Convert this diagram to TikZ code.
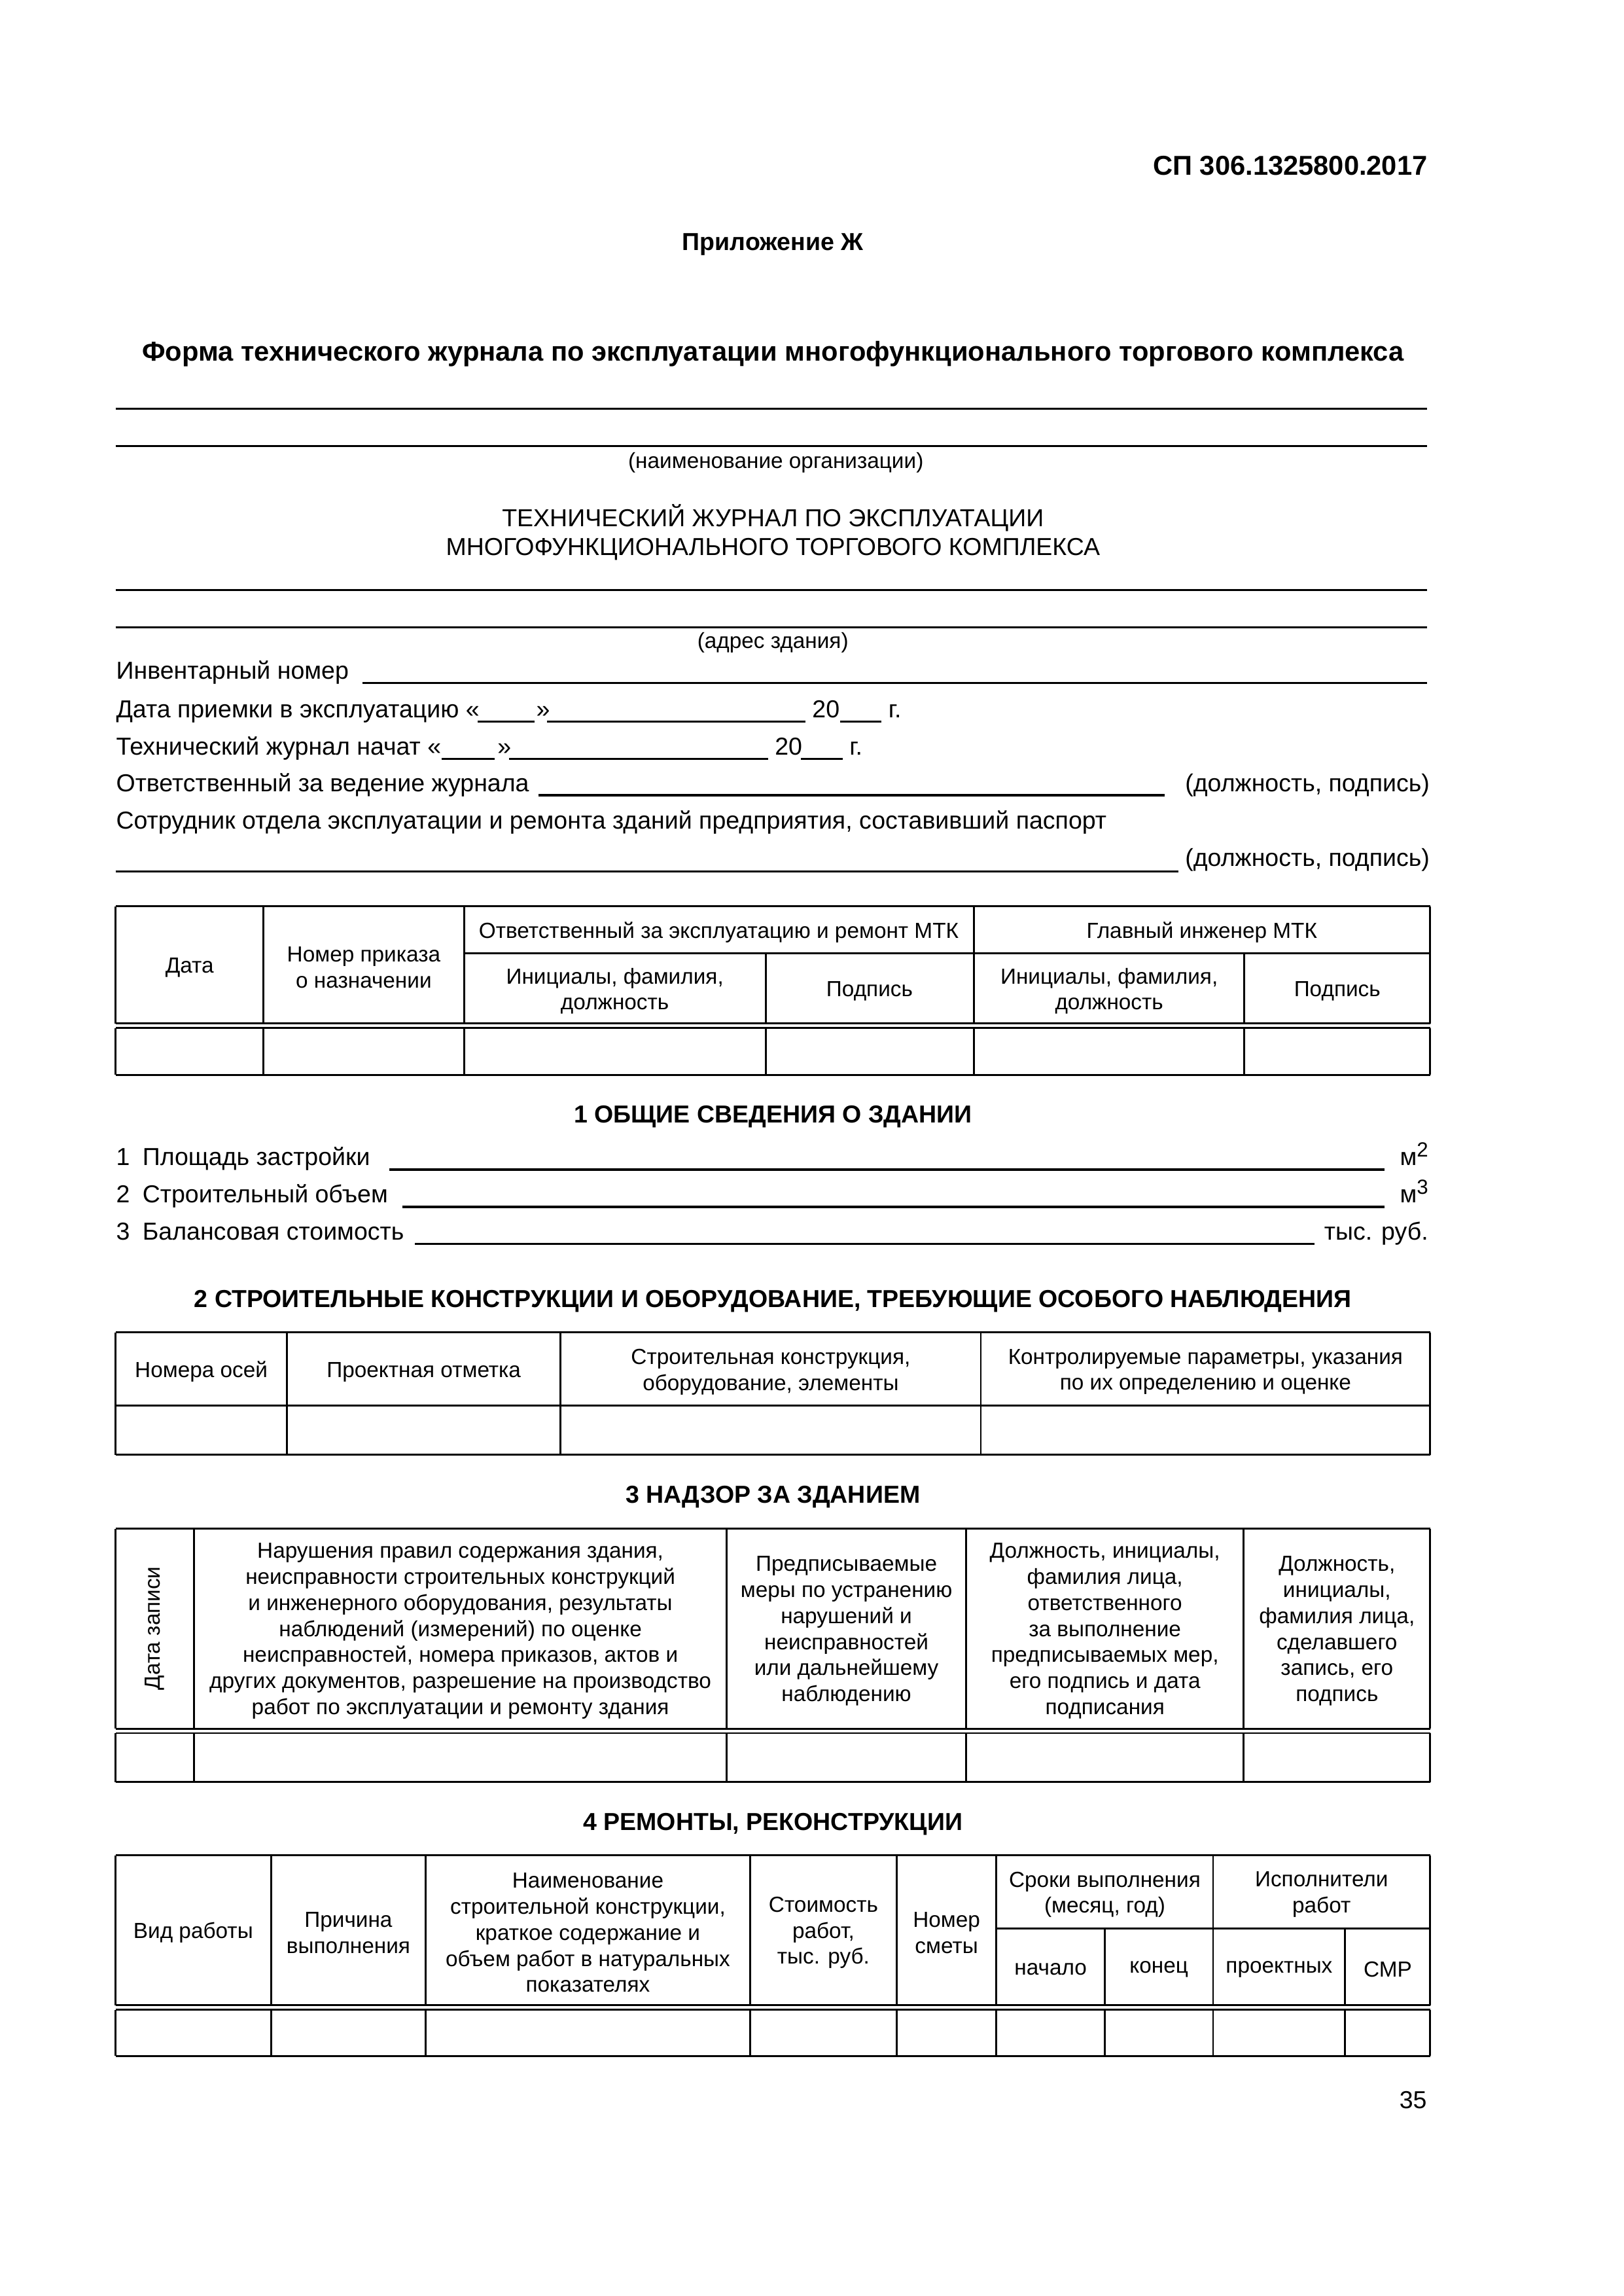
\documentclass[tikz,border=0pt]{standalone}
\usepackage{fontspec}
\setmainfont{Liberation Sans}

\begin{document}
\begin{tikzpicture}[
		x=0.53677pt, y=-0.53677pt,
		txt/.style={inner sep=0pt, anchor=base west, font=\fontsize{9}{13}\selectfont},
		txtr/.style={inner sep=0pt, anchor=base east, font=\fontsize{9}{13}\selectfont},
		note/.style={inner sep=0pt, anchor=base, font=\fontsize{8}{10}\selectfont},
		head/.style={inner sep=0pt, anchor=base, font=\bfseries\fontsize{9}{11}\selectfont},
		cell/.style={inner sep=0pt, yshift=-1pt, align=center, font=\fontsize{8}{9.55}\selectfont},
		rule/.style={line width=0.7pt},
		blank/.style={line width=0.8pt}
	]

	\fill[white] (0,0) rectangle (1109,1568);
	\useasboundingbox (0,0) rectangle (1109,1568);

	\node[inner sep=0pt, anchor=base east, font=\bfseries\fontsize{10}{12}\selectfont] (code) at (975.5,119.4) {СП 306.1325800.2017};
	\node[head] (annex) at (528,170.8) {Приложение Ж};
	\node[head, font=\bfseries\fontsize{10}{12}\selectfont] (title) at (528,246.7)
		{Форма технического журнала по эксплуатации многофункционального торгового комплекса};

	\foreach \y in {279,304.6,403,428.5}
		\draw[blank] (79,\y) -- (975,\y);
	\node[note] (orgname) at (530,319.8) {(наименование организации)};
	\node[head, font=\fontsize{9}{11}\selectfont] (journal1) at (528,359.6) {ТЕХНИЧЕСКИЙ ЖУРНАЛ ПО ЭКСПЛУАТАЦИИ};
	\node[head, font=\fontsize{9}{11}\selectfont] (journal2) at (528,379.3) {МНОГОФУНКЦИОНАЛЬНОГО ТОРГОВОГО КОМПЛЕКСА};
	\node[note] (address) at (528,442.7) {(адрес здания)};

	% fill-in lines
	\node[txt] (inv) at (79,463.7) {Инвентарный номер};
	\draw[blank] (247.5,466.5) -- (975,466.5);

	\node[txt] (accept) at (79,490) {Дата приемки в эксплуатацию «};
	\draw[blank] (326.4,492.8) -- (365,492.8);
	\node[txt] (acceptq) at (366,490) {»};
	\draw[blank] (373.8,492.8) -- (550.3,492.8);
	\node[txt] (accepty) at (554.5,490) {20};
	\draw[blank] (574,492.8) -- (602,492.8);
	\node[txt] (acceptg) at (606.6,490) {г.};

	\node[txt] (start) at (79,515.7) {Технический журнал начат «};
	\draw[blank] (301.5,518.4) -- (338,518.4);
	\node[txt] (startq) at (339.5,515.7) {»};
	\draw[blank] (347.6,518.4) -- (524.8,518.4);
	\node[txt] (starty) at (529,515.7) {20};
	\draw[blank] (547.3,518.4) -- (575.8,518.4);
	\node[txt] (startg) at (580,515.7) {г.};

	\node[txt] (keeper) at (79,540.7) {Ответственный за ведение журнала};
	\draw[blank] (367.8,543) -- (795.6,543);
	\node[txtr] (keepersig) at (977,540.7) {(должность, подпись)};

	\node[txt] (clerk) at (79,566) {Сотрудник отдела эксплуатации и ремонта зданий предприятия, составивший паспорт};
	\draw[blank] (79,595) -- (805,595);
	\node[txtr] (clerksig) at (977,591.7) {(должность, подпись)};

	% table of responsible persons
	\draw[rule] (79,619) -- (977,619);
	\draw[rule] (317,651) -- (977,651);
	\draw[rule] (79,699) -- (977,699) (79,702) -- (977,702);
	\draw[rule] (79,734) -- (977,734);
	\foreach \x in {79,180,317,665.5,977}
		\draw[rule] (\x,619) -- (\x,699) (\x,702) -- (\x,734);
	\foreach \x in {523,850}
		\draw[rule] (\x,651) -- (\x,699) (\x,702) -- (\x,734);

	\node[cell] (tdate) at (129.5,659) {Дата};
	\node[cell] (torder) at (248.5,659) {Номер приказа\\о назначении};
	\node[cell] (tresp) at (491,635) {Ответственный за эксплуатацию и ремонт МТК};
	\node[cell] (tchief) at (821,635) {Главный инженер МТК};
	\node[cell] (tresname) at (420,675) {Инициалы, фамилия,\\должность};
	\node[cell] (tressig) at (594,675) {Подпись};
	\node[cell] (tchname) at (757.7,675) {Инициалы, фамилия,\\должность};
	\node[cell] (tchsig) at (913.5,675) {Подпись};

	% section 1
	\node[head] (sec1) at (528,767) {1 ОБЩИЕ СВЕДЕНИЯ О ЗДАНИИ};
	\foreach \n/\y/\t/\s/\e in {1/796/Площадь застройки/266/945.6,
			2/821.4/Строительный объем/274.7/945.6,
			3/846.6/Балансовая стоимость/283.6/898}{
		\node[txt] (num\n) at (79,\y) {\n};
		\node[txt] (item\n) at (97,\y) {\t};
		\draw[blank] (\s,\y+2.8) -- (\e,\y+2.8);
	}
	\node[txtr] (unit1) at (976,796) {м\raisebox{3.2pt}{\fontsize{7.5}{8}\selectfont 2}};
	\node[txtr] (unit2) at (976,821.4) {м\raisebox{3.2pt}{\fontsize{7.5}{8}\selectfont 3}};
	\node[txtr] (unit3) at (976,846.6) {тыс. руб.};

	% section 2
	\node[head] (sec2) at (528,893) {2 СТРОИТЕЛЬНЫЕ КОНСТРУКЦИИ И ОБОРУДОВАНИЕ, ТРЕБУЮЩИЕ ОСОБОГО НАБЛЮДЕНИЯ};
	\draw[rule] (79,910) -- (977,910) (79,960) -- (977,960) (79,993.5) -- (977,993.5);
	\foreach \x in {79,196,383,670,977}
		\draw[rule] (\x,910) -- (\x,993.5);
	\node[cell] (axes) at (137.5,935) {Номера осей};
	\node[cell] (level) at (289.5,935) {Проектная отметка};
	\node[cell] (struct) at (526.5,935) {Строительная конструкция,\\оборудование, элементы};
	\node[cell] (params) at (823.5,935) {Контролируемые параметры, указания\\по их определению и оценке};

	% section 3
	\node[head] (sec3) at (528,1026.3) {3 НАДЗОР ЗА ЗДАНИЕМ};
	\draw[rule] (79,1044) -- (977,1044);
	\draw[rule] (79,1180.6) -- (977,1180.6) (79,1183.6) -- (977,1183.6);
	\draw[rule] (79,1217) -- (977,1217);
	\foreach \x in {79,132.6,496.4,660,849.6,977}
		\draw[rule] (\x,1044) -- (\x,1180.6) (\x,1183.6) -- (\x,1217);
	\node[cell, yshift=1pt, rotate=90] (recdate) at (105.8,1112) {Дата записи};
	\node[cell] (faults) at (314.5,1112) {Нарушения правил содержания здания,\\неисправности строительных конструкций\\и инженерного оборудования, результаты\\наблюдений (измерений) по оценке\\неисправностей, номера приказов, актов и\\других документов, разрешение на производство\\работ по эксплуатации и ремонту здания};
	\node[cell] (measures) at (578.2,1112) {Предписываемые\\меры по устранению\\нарушений и\\неисправностей\\или дальнейшему\\наблюдению};
	\node[cell] (executor) at (754.8,1112) {Должность, инициалы,\\фамилия лица,\\ответственного\\за выполнение\\предписываемых мер,\\его подпись и дата\\подписания};
	\node[cell] (writer) at (913.3,1112) {Должность,\\инициалы,\\фамилия лица,\\сделавшего\\запись, его\\подпись};

	% section 4
	\node[head] (sec4) at (528,1250) {4 РЕМОНТЫ, РЕКОНСТРУКЦИИ};
	\draw[rule] (79,1267) -- (977,1267);
	\draw[rule] (680.7,1317) -- (977,1317);
	\draw[rule] (79,1369.4) -- (977,1369.4) (79,1372.5) -- (977,1372.5);
	\draw[rule] (79,1404) -- (977,1404);
	\foreach \x in {79,185.3,290.8,512.4,612.6,680.7,828.7,977}
		\draw[rule] (\x,1267) -- (\x,1369.4) (\x,1372.5) -- (\x,1404);
	\foreach \x in {754.7,918.9}
		\draw[rule] (\x,1317) -- (\x,1369.4) (\x,1372.5) -- (\x,1404);
	\node[cell] (kind) at (132,1318) {Вид работы};
	\node[cell] (reason) at (238,1318) {Причина\\выполнения};
	\node[cell] (descr) at (401.6,1318) {Наименование\\строительной конструкции,\\краткое содержание и\\объем работ в натуральных\\показателях};
	\node[cell] (cost) at (562.5,1318) {Стоимость\\работ,\\тыс. руб.};
	\node[cell] (estim) at (646.6,1318) {Номер\\сметы};
	\node[cell] (terms) at (754.7,1292) {Сроки выполнения\\(месяц, год)};
	\node[cell] (doers) at (902.8,1292) {Исполнители\\работ};
	\node[cell] (begin) at (717.7,1343) {начало};
	\node[cell] (end) at (791.7,1343) {конец};
	\node[cell] (design) at (873.8,1343) {проектных};
	\node[cell] (smr) at (948,1343) {СМР};

	\node[txtr] (page) at (975,1440) {35};
\end{tikzpicture}
\end{document}
